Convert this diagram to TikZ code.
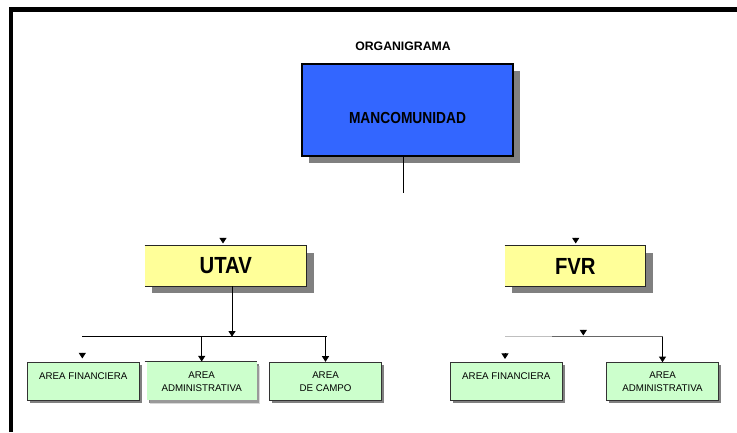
\documentclass[tikz,border=0pt]{standalone}
\usepackage{fontspec}
\setmainfont{Liberation Sans}
\newfontfamily\condfont[FakeStretch=0.86]{Liberation Sans}
\newfontfamily\unitfont[FakeStretch=0.87]{Liberation Sans}
\usetikzlibrary{arrows.meta,shadows}

\definecolor{mancoblue}{HTML}{3366FF}
\definecolor{unityellow}{HTML}{FFFF99}
\definecolor{areagreen}{HTML}{CCFFCC}

\tikzset{
  sombra/.style={drop shadow={shadow xshift=#1,shadow yshift=-#1,fill=black!50,opacity=1}},
  mancobox/.style={rectangle,draw=black,line width=0.9pt,fill=mancoblue,
    minimum width=158.25pt,minimum height=69pt,inner sep=0pt,sombra=5.25pt},
  unitbox/.style={rectangle,fill=unityellow,minimum height=30pt,inner sep=0pt,
    sombra=5.25pt,font=\unitfont\bfseries\fontsize{17.5}{20}\selectfont},
  areabox/.style={rectangle,draw=black!80,line width=0.7pt,fill=areagreen,
    minimum width=84pt,minimum height=28.5pt,inner sep=0pt,sombra=2pt},
  areatxt/.style={align=center,inner sep=0pt,text=black,
    font=\fontsize{7.3}{9.75}\selectfont},
  flecha/.style={-{Triangle[width=5.2pt,length=4.2pt]},line width=0.7pt},
  linea/.style={line width=0.7pt}
}

\begin{document}
\begin{tikzpicture}[x=0.75pt,y=-0.75pt]

\useasboundingbox (0,0) rectangle (737,432);
\fill[white] (0,0) rectangle (737,432);
\draw[line width=3.2pt] (11,432) -- (11,9.5) -- (737,9.5);

\node[font=\bfseries\fontsize{9.2}{11}\selectfont] (titulo) at (403,46.7) {ORGANIGRAMA};

\node[mancobox] (manco) at (407.5,110) {};
\node[font=\condfont\bfseries\fontsize{12}{14}\selectfont] (mancot) at (407.5,118) {MANCOMUNIDAD};

\node[unitbox,minimum width=121.3pt] (utav) at (225.8,266) {UTAV};
\node[unitbox,minimum width=105.5pt] (fvr) at (575.3,266) {FVR};
\foreach \u in {utav,fvr}
    \draw[linea,black!85] (\u.north west) -- (\u.north east) -- (\u.south east) -- (\u.south west);

\node[areabox] (fin1) at (83.3,381.3) {};
\node[areabox,draw=none,minimum width=82.5pt,sombra=1.5pt,drop shadow={fill=black!30}] (adm1) at (201.7,381) {};
\node[areabox] (campo) at (325.5,381.3) {};
\node[areabox] (fin2) at (506.3,381.7) {};
\node[areabox] (adm2) at (662.5,381.7) {};
\draw[linea,black!80] ([xshift=-1.2pt]adm1.north west) -- (adm1.north east);

\node[areatxt] (fin1t) at (83.3,376) {AREA FINANCIERA};
\node[areatxt] (adm1t) at (201.7,381.5) {AREA\\ADMINISTRATIVA};
\node[areatxt] (campot) at (325.5,381.5) {AREA\\DE CAMPO};
\node[areatxt] (fin2t) at (506.3,376) {AREA FINANCIERA};
\node[areatxt] (adm2t) at (662.5,381.5) {AREA\\ADMINISTRATIVA};

% lineas
\coordinate (mancoout) at (403,193);
\draw[linea] (mancoout |- manco.south) -- (mancoout);

\coordinate (utavbar) at (232,336.7);
\coordinate (bar1l) at (82,336.7);
\coordinate (bar1r) at (326.7,336.7);
\draw[flecha] (utavbar |- utav.south) -- (utavbar);
\draw[linea] (bar1l) -- (bar1r);
\draw[flecha] (adm1.north |- bar1l) -- (adm1.north);
\draw[flecha] (campo.north |- bar1l) -- (campo.north);

\coordinate (bar2l) at (505,336.7);
\coordinate (bar2m) at (552,336.7);
\coordinate (bar2r) at (662.5,336.7);
\draw[linea,black!25] (bar2l) -- (bar2m);
\draw[linea,black!60] (bar2m) -- (bar2r);
\draw[flecha] (bar2r) -- (adm2.north);

% puntas sueltas
\coordinate (utavin) at (223,243.5);
\coordinate (fvrin) at (575.7,243.5);
\coordinate (fin1in) at (82.3,358.5);
\coordinate (fin2in) at (505,359);
\coordinate (bar2in) at (583.3,335.5);
\foreach \c in {utavin,fvrin,fin1in,fin2in,bar2in}
    \draw[flecha] ([yshift=4.5pt]\c) -- (\c);

\end{tikzpicture}
\end{document}
